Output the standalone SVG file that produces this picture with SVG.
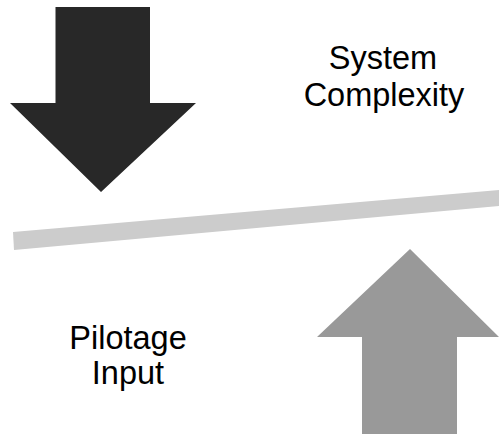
<svg xmlns="http://www.w3.org/2000/svg" width="499" height="436" viewBox="0 0 499 436">
<style>
text{font-family:"Liberation Sans",Arial,sans-serif;font-size:32.5px;fill:#000;text-anchor:middle}
</style>
<rect width="499" height="436" fill="#fff"/>
<g id="down-arrow"><polygon points="55.5,7 150,7 150,103 196,103 101,192 10,103 55.5,103" fill="#282828"/></g>
<g id="beam"><polygon points="13,232 499,190 499,206 14,250" fill="#cccccc"/></g>
<g id="up-arrow"><polygon points="410,249 499,337 457,337 457,434 362,434 362,337 317,337" fill="#999999"/></g>
<g id="system-complexity"><text x="383" y="69">System</text><text x="384" y="106">Complexity</text></g>
<g id="pilotage-input"><text x="128" y="349">Pilotage</text><text x="128" y="384">Input</text></g>
<g id="connectors"/>
</svg>
